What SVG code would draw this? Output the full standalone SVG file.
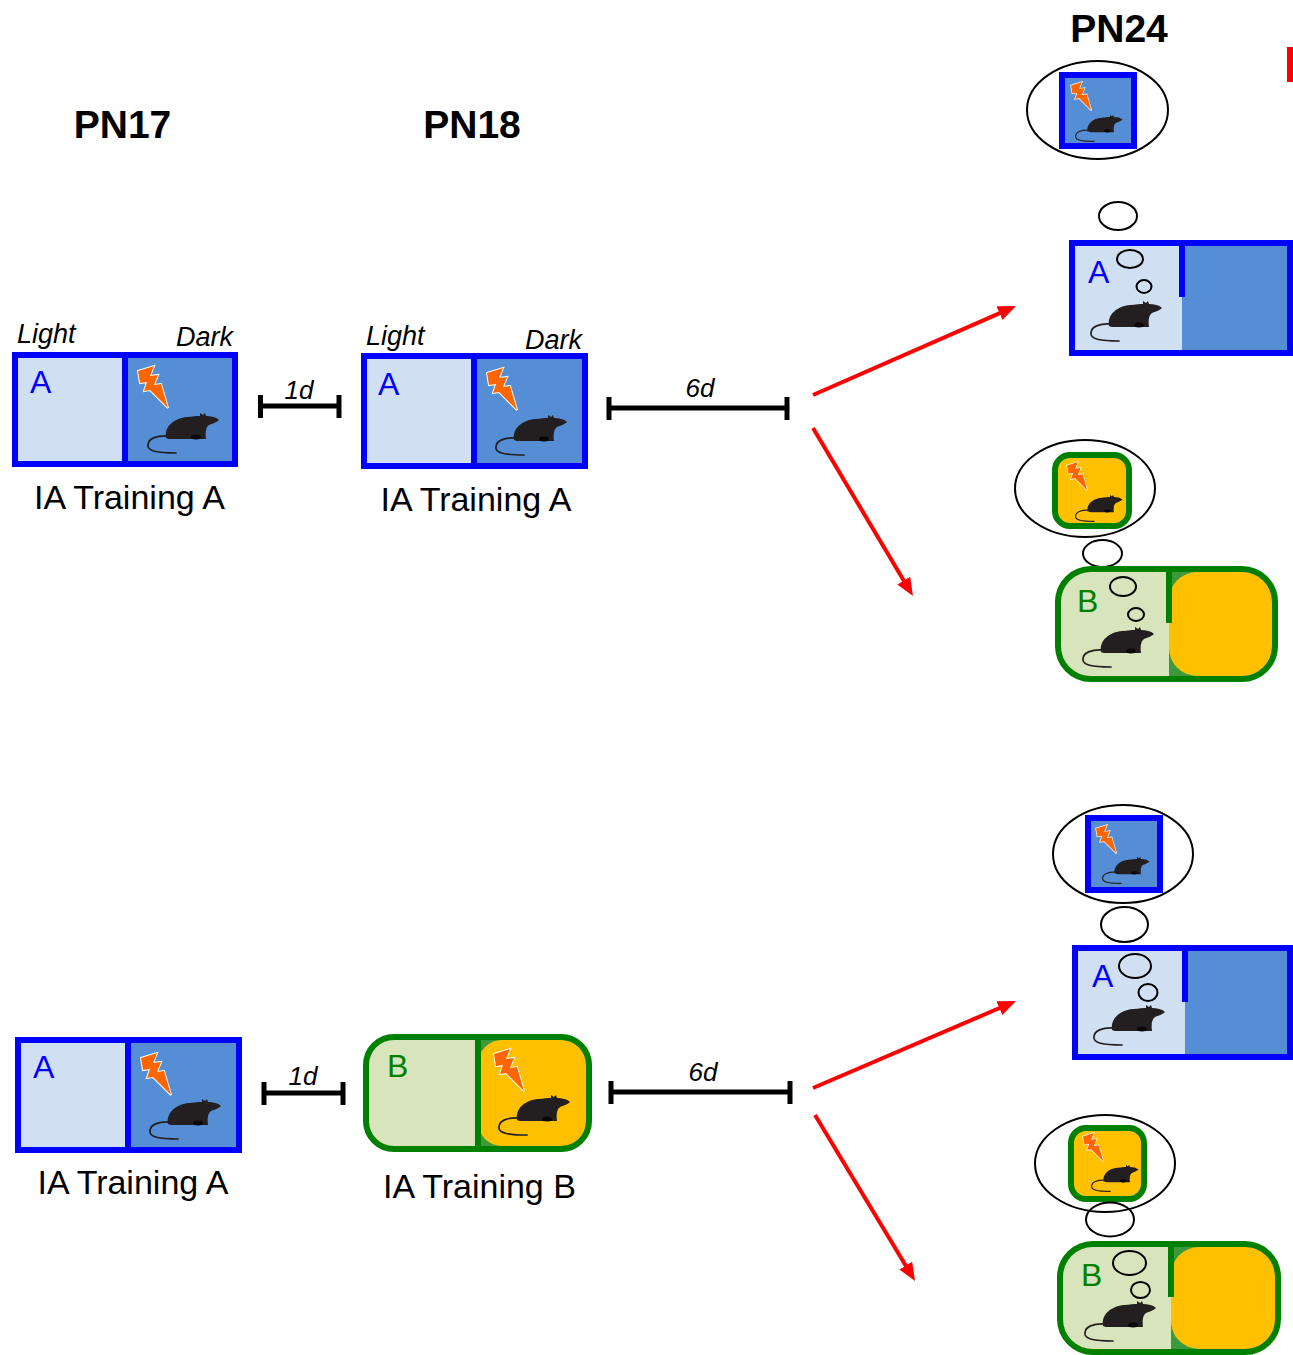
<svg xmlns="http://www.w3.org/2000/svg" xmlns:xlink="http://www.w3.org/1999/xlink" width="1293" height="1355" viewBox="0 0 1293 1355">
  <style>
    text { font-family: "Liberation Sans", Arial, sans-serif; }
    .title { font-size: 39px; font-weight: bold; fill: #000; text-anchor: middle; }
    .side { font-size: 27px; font-style: italic; fill: #000; }
    .cap { font-size: 34px; fill: #000; text-anchor: middle; }
    .ctxA { font-size: 32px; fill: #0000ff; }
    .ctxB { font-size: 32px; fill: #008000; }
    .dur { font-size: 26px; font-style: italic; fill: #000; text-anchor: middle; }
    .blueEdge { fill: none; stroke: #0000ff; stroke-width: 6; }
    .greenEdge { fill: none; stroke: #008000; stroke-width: 6; }
    .lightA { fill: #d0dff2; }
    .darkA { fill: #558ed5; }
    .lightB { fill: #d8e4bc; }
    .midB { fill: #3c9a3c; }
    .darkB { fill: #ffc000; }
    .bubble { fill: none; stroke: #000; stroke-width: 2; }
    .span { fill: none; stroke: #000; stroke-width: 5; }
    .arrow { fill: none; stroke: #ff0000; stroke-width: 4; marker-end: url(#redHead); }
  </style>
  <defs>
    <marker id="redHead" markerUnits="userSpaceOnUse" markerWidth="18" markerHeight="16" refX="4" refY="7.5" orient="auto">
      <path d="M0,0 L18,7.5 L0,15 Z" fill="#ff0000"/>
    </marker>
    <!-- mouse silhouette, 72 x 40 -->
    <g id="mouse">
      <path d="M22,23 C9,22 1,26 1,32 C0,38 10,40 29,40" fill="none" stroke="#231f20" stroke-width="1.7" stroke-linecap="round"/>
      <path d="M19,25 C17,13 28,5 40,4 C46,3.5 50,3 53,3 L53,0 L56,2 L58,0 L59,3 C64,3 69,4 72,7 C70,9 65,11 62,12 C59,14 58,19 59,26 L28,26 C23,26 20,26 19,25 Z" fill="#231f20"/>
      <ellipse cx="49" cy="24" rx="5" ry="2.5" fill="#080808"/>
    </g>
    <!-- shock bolt, 30 x 42 -->
    <g id="bolt">
      <path d="M0,5 L16,0 L12,10 L20,9 L16,19 L23,18 L30,42 L12,24 L6,25 L9,16 L2,17 Z" fill="#ff6600" stroke="#ffffff" stroke-width="2" stroke-linejoin="miter" paint-order="stroke"/>
    </g>
  </defs>

  <rect width="1293" height="1355" fill="#ffffff"/>

  <!-- day headings -->
  <g id="headings">
    <text class="title" x="122.5" y="138">PN17</text>
    <text class="title" x="472" y="138">PN18</text>
    <text class="title" x="1119" y="42">PN24</text>
    <rect x="1287" y="47" width="6" height="35" fill="#ff0000"/>
  </g>

  <!-- PN17, first cohort: training in context A -->
  <g id="trainA-1">
    <rect class="lightA" x="15" y="355" width="110" height="109"/>
    <rect class="darkA" x="125" y="355" width="110" height="109"/>
    <rect class="blueEdge" x="15" y="355" width="220" height="109"/>
    <line x1="125" y1="355" x2="125" y2="464" stroke="#0000ff" stroke-width="6"/>
    <text class="ctxA" x="30" y="393">A</text>
    <use href="#bolt" transform="translate(138,366)"/>
    <use href="#mouse" transform="translate(147,413)"/>
    <text class="side" x="17" y="343">Light</text>
    <text class="side" x="233" y="346" text-anchor="end">Dark</text>
    <text class="cap" x="129.5" y="509">IA Training A</text>
  </g>

  <!-- PN18, first cohort: training in context A again -->
  <g id="trainA-2">
    <rect class="lightA" x="364" y="356" width="110" height="110"/>
    <rect class="darkA" x="474" y="356" width="111" height="110"/>
    <rect class="blueEdge" x="364" y="356" width="221" height="110"/>
    <line x1="474" y1="356" x2="474" y2="466" stroke="#0000ff" stroke-width="6"/>
    <text class="ctxA" x="378" y="395">A</text>
    <use href="#bolt" transform="translate(487,368)"/>
    <use href="#mouse" transform="translate(495,415)"/>
    <text class="side" x="366" y="345">Light</text>
    <text class="side" x="582" y="349" text-anchor="end">Dark</text>
    <text class="cap" x="476" y="511">IA Training A</text>
  </g>

  <!-- PN17, second cohort: training in context A -->
  <g id="trainA-3">
    <rect class="lightA" x="18" y="1040" width="110" height="110"/>
    <rect class="darkA" x="128" y="1040" width="111" height="110"/>
    <rect class="blueEdge" x="18" y="1040" width="221" height="110"/>
    <line x1="128" y1="1040" x2="128" y2="1150" stroke="#0000ff" stroke-width="6"/>
    <text class="ctxA" x="33" y="1078">A</text>
    <use href="#bolt" transform="translate(141,1053)"/>
    <use href="#mouse" transform="translate(149,1099)"/>
    <text class="cap" x="133" y="1194">IA Training A</text>
  </g>

  <!-- PN18, second cohort: training in context B -->
  <g id="trainB-4">
    <rect class="lightB" x="366" y="1037" width="223" height="112" rx="28"/>
    <path class="midB" d="M478,1037 H561 A28,28 0 0 1 589,1065 V1121 A28,28 0 0 1 561,1149 H478 Z"/>
    <rect class="darkB" x="478" y="1040" width="108" height="106" rx="24"/>
    <rect class="greenEdge" x="366" y="1037" width="223" height="112" rx="28"/>
    <line x1="478" y1="1037" x2="478" y2="1149" stroke="#008000" stroke-width="6"/>
    <text class="ctxB" x="387" y="1077">B</text>
    <use href="#bolt" transform="translate(494,1049)"/>
    <use href="#mouse" transform="translate(498,1095)"/>
    <text class="cap" x="479.5" y="1198">IA Training B</text>
  </g>

  <!-- PN24, first cohort tested in A -->
  <g id="testA-1">
    <ellipse class="bubble" cx="1097.5" cy="110" rx="70.5" ry="49"/>
    <rect class="darkA" x="1062" y="75" width="72" height="71"/>
    <rect class="blueEdge" x="1062" y="75" width="72" height="71"/>
    <use href="#bolt" transform="translate(1071,82) scale(0.68)"/>
    <use href="#mouse" transform="translate(1075,115) scale(0.66)"/>
    <ellipse class="bubble" cx="1118" cy="216" rx="19" ry="14"/>
    <rect class="lightA" x="1072" y="243" width="110" height="110"/>
    <rect class="darkA" x="1182" y="243" width="108" height="110"/>
    <rect class="blueEdge" x="1072" y="243" width="218" height="110"/>
    <line x1="1182" y1="243" x2="1182" y2="297" stroke="#0000ff" stroke-width="6"/>
    <text class="ctxA" x="1088" y="283">A</text>
    <ellipse class="bubble" cx="1130" cy="259" rx="13" ry="9"/>
    <ellipse class="bubble" cx="1144" cy="286.5" rx="7.5" ry="6.5"/>
    <use href="#mouse" transform="translate(1090,301)"/>
  </g>

  <!-- PN24, first cohort tested in B -->
  <g id="testB-1">
    <ellipse class="bubble" cx="1085" cy="488.5" rx="70" ry="48.5"/>
    <rect class="darkB" x="1055" y="455" width="74" height="71" rx="15"/>
    <rect class="greenEdge" x="1055" y="455" width="74" height="71" rx="15"/>
    <use href="#bolt" transform="translate(1067,462) scale(0.68)"/>
    <use href="#mouse" transform="translate(1075,495) scale(0.66)"/>
    <ellipse class="bubble" cx="1102.5" cy="553.5" rx="19.5" ry="13.5"/>
    <rect class="lightB" x="1058" y="569" width="217" height="110" rx="33"/>
    <path class="midB" d="M1169,569 H1242 A33,33 0 0 1 1275,602 V646 A33,33 0 0 1 1242,679 H1169 Z"/>
    <rect class="darkB" x="1169" y="572" width="103" height="104" rx="28"/>
    <rect class="greenEdge" x="1058" y="569" width="217" height="110" rx="33"/>
    <line x1="1169" y1="569" x2="1169" y2="623" stroke="#008000" stroke-width="6"/>
    <text class="ctxB" x="1077" y="612">B</text>
    <ellipse class="bubble" cx="1123" cy="586.5" rx="13" ry="9.5"/>
    <ellipse class="bubble" cx="1136" cy="614.5" rx="8" ry="6.5"/>
    <use href="#mouse" transform="translate(1082,627)"/>
  </g>

  <!-- PN24, second cohort tested in A -->
  <g id="testA-2">
    <ellipse class="bubble" cx="1123" cy="854" rx="70" ry="49"/>
    <rect class="darkA" x="1088" y="818" width="72" height="72"/>
    <rect class="blueEdge" x="1088" y="818" width="72" height="72"/>
    <use href="#bolt" transform="translate(1096,825) scale(0.68)"/>
    <use href="#mouse" transform="translate(1102,857) scale(0.66)"/>
    <ellipse class="bubble" cx="1124.5" cy="924.5" rx="23.5" ry="17.5"/>
    <rect class="lightA" x="1075" y="948" width="110" height="109"/>
    <rect class="darkA" x="1185" y="948" width="105" height="109"/>
    <rect class="blueEdge" x="1075" y="948" width="215" height="109"/>
    <line x1="1185" y1="948" x2="1185" y2="1002" stroke="#0000ff" stroke-width="6"/>
    <text class="ctxA" x="1092" y="987">A</text>
    <ellipse class="bubble" cx="1135" cy="966" rx="16" ry="12"/>
    <ellipse class="bubble" cx="1148" cy="992.5" rx="9.5" ry="8.5"/>
    <use href="#mouse" transform="translate(1093,1005)"/>
  </g>

  <!-- PN24, second cohort tested in B -->
  <g id="testB-2">
    <ellipse class="bubble" cx="1105" cy="1163.5" rx="70" ry="48.5"/>
    <rect class="darkB" x="1071" y="1128" width="73" height="71" rx="15"/>
    <rect class="greenEdge" x="1071" y="1128" width="73" height="71" rx="15"/>
    <use href="#bolt" transform="translate(1083,1133) scale(0.68)"/>
    <use href="#mouse" transform="translate(1091,1165) scale(0.66)"/>
    <ellipse class="bubble" cx="1110" cy="1219.5" rx="24" ry="17"/>
    <rect class="lightB" x="1060" y="1244" width="218" height="108" rx="33"/>
    <path class="midB" d="M1171,1244 H1245 A33,33 0 0 1 1278,1277 V1319 A33,33 0 0 1 1245,1352 H1171 Z"/>
    <rect class="darkB" x="1171" y="1247" width="104" height="102" rx="28"/>
    <rect class="greenEdge" x="1060" y="1244" width="218" height="108" rx="33"/>
    <line x1="1171" y1="1244" x2="1171" y2="1297" stroke="#008000" stroke-width="6"/>
    <text class="ctxB" x="1081" y="1286">B</text>
    <ellipse class="bubble" cx="1129.5" cy="1263" rx="16.5" ry="12"/>
    <ellipse class="bubble" cx="1140.5" cy="1290" rx="9.5" ry="8"/>
    <use href="#mouse" transform="translate(1084,1301)"/>
  </g>

  <!-- intervals and branching arrows -->
  <g id="connectors">
    <path class="span" d="M260.5,406 H339 M260.5,395 V418 M339,395 V418"/>
    <text class="dur" x="299" y="399">1d</text>
    <path class="span" d="M609,408 H787 M609,397 V420 M787,397 V420"/>
    <text class="dur" x="700" y="397">6d</text>
    <path class="span" d="M264,1093 H343 M264,1082 V1105 M343,1082 V1105"/>
    <text class="dur" x="303" y="1085">1d</text>
    <path class="span" d="M611,1092 H790 M611,1081 V1104 M790,1081 V1104"/>
    <text class="dur" x="703" y="1081">6d</text>

    <line class="arrow" x1="813" y1="395" x2="1003.2" y2="311.6"/>
    <line class="arrow" x1="813" y1="428" x2="905.8" y2="584"/>
    <line class="arrow" x1="813" y1="1088" x2="1003.1" y2="1006.5"/>
    <line class="arrow" x1="815" y1="1115" x2="907.8" y2="1269"/>
  </g>
</svg>
